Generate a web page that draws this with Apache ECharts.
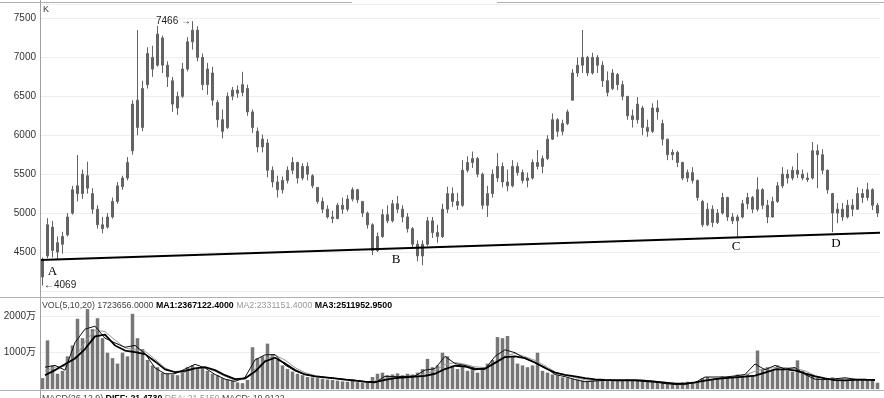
<!DOCTYPE html>
<html><head><meta charset="utf-8">
<script src="https://cdn.jsdelivr.net/npm/echarts@6/dist/echarts.min.js"></script>
<style>html,body{margin:0;padding:0;background:#fff}#c{width:884px;height:398px}</style>
</head><body><div id="c"></div>
<script>
// Daily K-line: [open, close, low, high]
const kData = [
[4180,4400,4069,4430],[4450,4850,4420,4935],[4820,4520,4430,4900],[4500,4620,4410,4700],[4600,4700,4480,4760],
[4720,4950,4700,5000],[5000,5300,4980,5350],[5350,5250,5150,5745],[5250,5500,5180,5560],[5480,5320,5250,5660],
[5250,5050,4990,5320],[5050,4850,4800,5100],[4850,4800,4740,4950],[4820,4950,4800,5000],[4950,5150,4930,5200],
[5150,5350,5120,5400],[5340,5450,5300,5480],[5450,5650,5420,5720],[5800,6400,5750,6450],[6450,6100,6000,7350],
[6100,6600,6050,6700],[6650,7050,6600,7130],[7000,6850,6750,7150],[6900,7300,6880,7404],[7250,6900,6800,7280],
[6900,6750,6620,6950],[6700,6400,6300,6750],[6350,6500,6260,6560],[6500,6850,6480,6930],[6850,7200,6820,7260],
[7200,7350,7100,7466],[7350,7000,6950,7400],[7000,6650,6580,7050],[6650,6850,6520,6930],[6800,6450,6380,6880],
[6420,6200,6100,6450],[6200,6050,5960,6330],[6100,6500,6080,6550],[6500,6580,6450,6620],[6580,6540,6480,6640],
[6550,6650,6500,6815],[6600,6300,6250,6650],[6300,6100,6030,6330],[6050,5850,5780,6100],[5850,5950,5780,6010],
[5900,5550,5460,5950],[5550,5400,5330,5600],[5400,5300,5200,5480],[5300,5420,5250,5470],[5420,5550,5380,5600],
[5550,5650,5500,5720],[5650,5450,5380,5660],[5450,5600,5420,5640],[5600,5500,5420,5650],[5480,5350,5320,5500],
[5330,5150,5120,5330],[5150,5050,5000,5200],[5050,4950,4930,5100],[4950,4930,4870,5030],[4930,5100,4920,5130],
[5100,5050,4990,5200],[5050,5180,5020,5230],[5180,5300,5150,5330],[5300,5170,5130,5310],[5150,5000,4950,5150],
[5000,4850,4800,5020],[4850,4520,4460,4870],[4520,4700,4500,4750],[4700,4980,4680,5050],[4980,4900,4870,5100],
[4900,5120,4880,5170],[5120,5050,5000,5220],[5050,4950,4880,5100],[4950,4800,4750,5000],[4800,4600,4560,4820],
[4600,4450,4380,4650],[4450,4600,4330,4650],[4600,4900,4580,4950],[4900,4750,4680,4950],[4750,4700,4620,4850],
[4700,5050,4680,5120],[5050,5250,5000,5340],[5250,5150,5080,5330],[5150,5100,5040,5260],[5100,5550,5080,5680],
[5550,5650,5520,5730],[5650,5700,5580,5790],[5700,5500,5460,5720],[5500,5100,5050,5520],[5100,5250,4950,5350],
[5250,5500,5200,5560],[5450,5600,5400,5770],[5600,5400,5330,5650],[5400,5350,5280,5560],[5350,5600,5330,5680],
[5600,5520,5480,5650],[5520,5420,5380,5560],[5420,5450,5330,5520],[5450,5650,5430,5690],[5650,5600,5560,5810],
[5600,5700,5510,5740],[5700,5950,5680,6000],[5950,6200,5940,6280],[6200,6050,5980,6220],[6050,6150,6000,6200],
[6150,6300,6130,6330],[6450,6800,6450,6850],[6800,6900,6750,7000],[6900,7000,6800,7352],[7000,6800,6760,7020],
[6800,7000,6780,7060],[7000,6900,6800,7030],[6900,6700,6620,6950],[6700,6550,6500,6820],[6600,6800,6580,6850],
[6780,6650,6580,6800],[6650,6500,6450,6700],[6500,6250,6200,6500],[6250,6200,6100,6330],[6200,6400,6150,6490],
[6350,6100,6000,6380],[6100,6050,5980,6200],[6050,6350,6030,6410],[6350,6300,6200,6450],[6150,5950,5870,6200],
[5950,5750,5680,5950],[5750,5780,5680,5820],[5780,5650,5590,5800],[5650,5450,5420,5660],[5450,5520,5400,5560],
[5520,5420,5380,5590],[5420,5200,5160,5430],[5150,4850,4820,5170],[4850,5050,4830,5130],[5050,4880,4820,5100],
[4880,5000,4860,5050],[5000,5200,4980,5260],[5200,4950,4900,5210],[4950,4900,4860,5000],[4900,4950,4692,4980],
[4950,5120,4930,5170],[5120,5200,5050,5260],[5200,5050,5000,5220],[5050,5300,5020,5460],[5300,5100,5050,5320],
[5100,4950,4870,5170],[4950,5150,4940,5210],[5150,5350,5130,5400],[5350,5500,5320,5590],[5500,5450,5380,5560],
[5450,5550,5420,5600],[5550,5500,5450,5770],[5500,5450,5420,5560],[5450,5430,5400,5520],[5450,5800,5430,5913],
[5800,5750,5320,5880],[5750,5550,5500,5820],[5550,5300,5250,5560],[5250,5000,4755,5260],[5000,5050,4870,5130],
[5050,4950,4900,5130],[4950,5100,4930,5170],[5100,5050,4960,5180],[5050,5250,5040,5330],[5250,5200,5130,5310],
[5200,5300,5160,5390],[5300,5100,5040,5320],[5100,5000,4950,5130]
];
// Volume, in 万
const volumes = [
300,1340,650,420,500,900,1200,1935,1400,2200,
1650,1950,1400,1000,850,700,1000,900,2070,1400,
1100,800,650,600,450,420,400,380,500,600,
650,550,600,500,420,380,300,260,220,180,
160,250,1150,850,900,1250,950,800,650,550,
480,420,380,330,320,300,280,260,250,230,
210,200,220,190,180,200,330,420,450,380,
400,430,380,420,400,450,550,830,600,650,
1000,900,650,550,600,500,550,450,600,700,
800,1430,1400,1460,900,700,650,600,650,1000,
500,450,400,380,320,300,280,260,230,220,
240,250,270,230,260,250,240,270,230,250,
220,200,230,210,180,190,170,160,180,200,
190,220,300,330,280,300,350,300,330,400,
380,420,380,1060,550,600,520,650,550,500,
480,790,500,420,380,300,250,280,320,300,
280,250,270,260,240,250,220,172
];
// Volume moving averages (coarser sampling)
const ma1 = [600,650,520,1280,1650,1730,1400,1270,1150,1200,
980,580,420,420,550,680,580,400,270,210,
320,800,940,950,660,500,400,345,320,290,
265,245,200,170,350,340,345,360,520,560,
900,700,650,570,540,900,1080,1000,840,720,
600,400,340,260,200,220,240,250,250,250,
240,200,150,125,130,175,330,330,330,360,
400,690,530,650,550,590,400,270,260,280,
310,270,270,237];
const ma2 = [490,600,630,860,1300,1620,1580,1350,1130,1080,
1040,820,580,460,460,570,600,490,350,240,
270,540,800,930,800,590,450,370,330,295,
265,235,195,220,300,340,350,355,410,510,
670,730,680,610,590,710,910,980,890,790,
640,470,380,315,255,230,235,240,240,240,
230,210,185,155,145,165,230,285,320,340,
380,490,565,590,590,570,500,370,295,270,
280,270,250,233];
const ma3 = [380,520,680,840,1100,1450,1500,1200,1060,1015,
960,760,540,465,500,570,600,520,380,270,
290,480,760,860,700,520,400,345,320,290,
260,230,205,190,250,300,320,340,360,420,
550,640,620,540,560,720,880,900,850,730,
580,450,390,350,300,265,250,240,235,235,
220,200,175,150,150,180,230,270,300,320,
340,370,450,540,540,515,430,350,290,245,
240,250,250,250];
// Support trend line A-D (start value, end value)
const trendLine = [[0,4397],[1,4747]];
// Point labels: [text, candle index, price]
const pointLabels = [['A',2,4245],['B',70,4405],['C',138,4567],['D',158,4611]];
const priceMarks = [['7466 →',30,7466,'left'],['←4069',0,4069,'right']];
const priceTickLabels = [4500,5000,5500,6000,6500,7000,7500];
const volTickLabels = [1000,2000];

const categories = kData.map((d,i)=>String(i+1));
const maCategories = ma1.map((d,i)=>String(i+1));

const chart = echarts.init(document.getElementById('c'));
const labelFont = 'Liberation Sans, Arial, sans-serif';
const markData = pointLabels.map(p => ({
  coord:[p[1],p[2]],
  label:{show:true,formatter:p[0],position:'inside',offset:[p[0]==='A'?0:3.5,0],
    fontFamily:'Liberation Serif, Times New Roman, serif',fontSize:13,color:'#000'}
})).concat(priceMarks.map(p => ({
  coord:[p[1],p[2]],
  label:{show:true,formatter:p[0],position:p[3],distance:1,
    fontFamily:labelFont,fontSize:10,color:'#222'}
})));

chart.setOption({
  animation:false,
  backgroundColor:'#fff',
  grid:[{left:40,right:4,top:4,height:293},{left:40,right:4,top:297,height:92}],
  xAxis:[
    {type:'category',gridIndex:0,data:categories,show:false},
    {type:'value',gridIndex:0,min:0,max:1,show:false},
    {type:'category',gridIndex:1,data:categories,show:false},
    {type:'category',gridIndex:1,data:maCategories,show:false}
  ],
  yAxis:[
    {type:'value',gridIndex:0,min:3922,max:7686,splitNumber:8,
     axisLine:{show:false},axisTick:{show:false},
     axisLabel:{showMinLabel:false,showMaxLabel:false,margin:4,color:'#333',fontSize:10,fontFamily:labelFont,
       formatter:v=>priceTickLabels.indexOf(v)>=0?String(v):''},
     splitLine:{lineStyle:{color:'#eeeeee',width:1}}},
    {type:'value',gridIndex:1,min:0,max:2534,splitNumber:3,
     axisLine:{show:false},axisTick:{show:false},
     axisLabel:{showMinLabel:false,showMaxLabel:false,margin:4,color:'#333',fontSize:10,
       fontFamily:'Liberation Sans, Noto Sans CJK SC, sans-serif',
       formatter:v=>volTickLabels.indexOf(v)>=0?(v+'万'):''},
     splitLine:{lineStyle:{color:'#eeeeee',width:1}}}
  ],
  series:[
    {type:'candlestick',xAxisIndex:0,yAxisIndex:0,data:kData,barWidth:3,
     itemStyle:{color:'#636363',color0:'#636363',borderColor:'#636363',borderColor0:'#636363',borderWidth:1},
     markPoint:{symbol:'circle',symbolSize:1,itemStyle:{color:'rgba(0,0,0,0)'},silent:true,data:markData}},
    {type:'line',xAxisIndex:1,yAxisIndex:0,data:trendLine,symbol:'none',z:5,
     lineStyle:{color:'#000',width:2}},
    {type:'bar',xAxisIndex:2,yAxisIndex:1,data:volumes,barWidth:3.5,itemStyle:{color:'#777777'}},
    {type:'line',xAxisIndex:3,yAxisIndex:1,data:ma2,symbol:'none',lineStyle:{color:'#9a9a9a',width:1}},
    {type:'line',xAxisIndex:3,yAxisIndex:1,data:ma1,symbol:'none',lineStyle:{color:'#111',width:1}},
    {type:'line',xAxisIndex:3,yAxisIndex:1,data:ma3,symbol:'none',lineStyle:{color:'#000',width:1.8}}
  ],
  graphic:[
    {type:'line',z:100,shape:{x1:0,y1:2.5,x2:352,y2:2.5},style:{stroke:'#b0b0b0',lineWidth:1}},
    {type:'line',z:100,shape:{x1:497,y1:2.5,x2:884,y2:2.5},style:{stroke:'#b0b0b0',lineWidth:1}},
    {type:'line',z:100,shape:{x1:40.5,y1:0,x2:40.5,y2:398},style:{stroke:'#a0a0a0',lineWidth:1}},
    {type:'line',z:100,shape:{x1:0,y1:297.5,x2:884,y2:297.5},style:{stroke:'#b0b0b0',lineWidth:1}},
    {type:'line',z:100,shape:{x1:0,y1:390.5,x2:884,y2:390.5},style:{stroke:'#b0b0b0',lineWidth:1}},
    {type:'text',z:100,left:43,top:5,style:{text:'K',fontSize:9,fontFamily:labelFont,fill:'#333'}},
    {type:'text',z:100,left:42,top:301,style:{
      text:'{n|VOL(5,10,20) 1723656.0000 }{a|MA1:2367122.4000 }{b|MA2:2331151.4000 }{a|MA3:2511952.9500}',
      rich:{
        n:{fontSize:8.8,fontFamily:labelFont,fill:'#444'},
        a:{fontSize:8.8,fontFamily:labelFont,fill:'#000',fontWeight:'bold'},
        b:{fontSize:8.8,fontFamily:labelFont,fill:'#999'}
      }}},
    {type:'text',z:100,left:42,top:394,style:{
      text:'{n|MACD(26,12,9) }{a|DIFF: 21.4730 }{b|DEA: 21.5150 }{n|MACD: 19.9122}',
      rich:{
        n:{fontSize:8.8,fontFamily:labelFont,fill:'#444'},
        a:{fontSize:8.8,fontFamily:labelFont,fill:'#000',fontWeight:'bold'},
        b:{fontSize:8.8,fontFamily:labelFont,fill:'#999'}
      }}}
  ]
});
</script></body></html>
